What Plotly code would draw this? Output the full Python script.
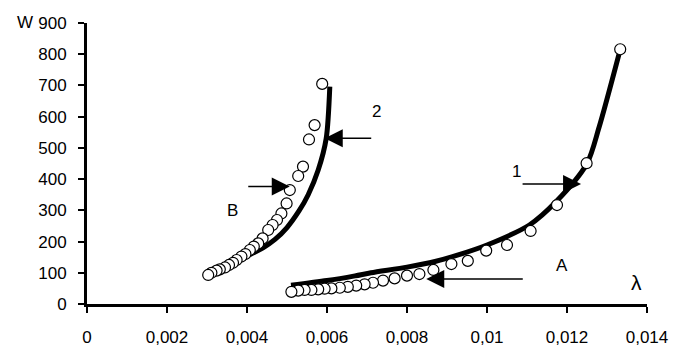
import plotly.graph_objects as go

# ---- data ----
# Curve A (experimental points, open circles)
a_lam = [0.01333, 0.01249, 0.01175, 0.01109, 0.01050, 0.00998, 0.00952, 0.00911,
         0.00866, 0.00831, 0.00800, 0.00769, 0.00740, 0.00715, 0.00694, 0.00673,
         0.00652, 0.00632, 0.00611, 0.00594, 0.00578, 0.00561, 0.00544, 0.00528, 0.00511]
a_w = [816, 451, 317, 234, 189, 171, 138, 128,
       109, 96, 91, 82, 75, 68, 63, 59,
       55, 52, 50, 49, 47, 45, 45, 43, 39]

# Curve 1 (theoretical line through A)
l1_lam = [0.0133, 0.0128, 0.0125, 0.01173, 0.01106, 0.0100, 0.0093, 0.0087, 0.0080, 0.0071, 0.0067, 0.0060, 0.0051]
l1_w = [800, 565, 450, 328, 253, 189, 158, 136, 118, 100, 90, 75, 60]

# Curve B (experimental points, open circles)
b_lam = [0.00588, 0.00569, 0.00555, 0.00540, 0.00528, 0.00507, 0.00499, 0.00486,
         0.00475, 0.00464, 0.00453, 0.00439, 0.00428, 0.00417, 0.00407, 0.00396,
         0.00386, 0.00374, 0.00365, 0.00355, 0.00345, 0.00332, 0.00324, 0.00311, 0.00303]
b_w = [705, 573, 527, 440, 410, 365, 322, 290,
       269, 253, 237, 210, 194, 184, 173, 160,
       152, 141, 132, 125, 117, 111, 107, 100, 93]

# Curve 2 (theoretical line through B)
l2_lam = [0.00607, 0.00598, 0.00578, 0.00553, 0.00530, 0.00500, 0.00470, 0.0044, 0.0041, 0.0038, 0.0035, 0.0032, 0.00305]
l2_w = [696, 530, 429, 350, 298, 245, 207, 180, 160, 140, 120, 102, 93]

x_ticks = [0, 0.002, 0.004, 0.006, 0.008, 0.01, 0.012, 0.014]
x_labels = ["0", "0,002", "0,004", "0,006", "0,008", "0,01", "0,012", "0,014"]
y_ticks = [0, 100, 200, 300, 400, 500, 600, 700, 800, 900]
y_labels = [str(v) for v in y_ticks]

FONT = "Liberation Sans, Arial, sans-serif"

fig = go.Figure()
fig.add_trace(go.Scatter(x=l1_lam, y=l1_w, mode="lines", line=dict(color="black", width=5, shape="spline", smoothing=0.8),
                         hoverinfo="skip", showlegend=False))
fig.add_trace(go.Scatter(x=l2_lam, y=l2_w, mode="lines", line=dict(color="black", width=5, shape="spline", smoothing=0.8),
                         hoverinfo="skip", showlegend=False))
marker = dict(symbol="circle", size=11, color="white", line=dict(color="black", width=1.2))
fig.add_trace(go.Scatter(x=a_lam, y=a_w, mode="markers", marker=marker, showlegend=False))
fig.add_trace(go.Scatter(x=b_lam, y=b_w, mode="markers", marker=marker, showlegend=False))

txt = dict(family=FONT, size=17, color="black")
arrow = dict(showarrow=True, arrowhead=2, arrowsize=2.4, arrowwidth=1.5, arrowcolor="black", text="")
fig.add_annotation(x=0.008482, y=80, ax=98, ay=0, **arrow)
fig.add_annotation(x=0.012352, y=384, ax=-60, ay=0, **arrow)
fig.add_annotation(x=0.005069, y=376, ax=-43, ay=0, **arrow)
fig.add_annotation(x=0.005943, y=531, ax=48, ay=0, **arrow)

for t, x, y in [("A", 0.011885, 123), ("1", 0.010729, 424), ("B", 0.003633, 301),
                ("2", 0.007241, 615)]:
    fig.add_annotation(x=x, y=y, text=t, showarrow=False, font=txt,
                       xanchor="center", yanchor="middle")
fig.add_annotation(x=0.013745, y=69, text="λ", showarrow=False, xanchor="center", yanchor="middle",
                   font=dict(family=FONT, size=21, color="black"))
fig.add_annotation(x=-0.1107, y=1.0007, xref="paper", yref="paper", text="W", showarrow=False,
                   xanchor="center", yanchor="middle", font=txt)

axis_common = dict(showgrid=False, zeroline=False, showline=True, linecolor="black", linewidth=3,
                   ticks="outside", ticklen=6, tickwidth=2, tickcolor="black", automargin=False,
                   tickfont=dict(family=FONT, size=17, color="black"))
fig.update_xaxes(range=[0, 0.014], tickvals=x_ticks, ticktext=x_labels, ticklabelstandoff=10, **axis_common)
fig.update_yaxes(range=[0, 900], tickvals=y_ticks, ticktext=y_labels, ticklabelstandoff=8, **axis_common)

fig.update_layout(width=674, height=347, margin=dict(l=87, r=27, t=23, b=43, autoexpand=False),
                  paper_bgcolor="white", plot_bgcolor="white", font=dict(family=FONT))
fig.write_html("out.html", config={"displayModeBar": False},
               post_script="document.body.style.margin='0';document.body.style.overflow='hidden';")
